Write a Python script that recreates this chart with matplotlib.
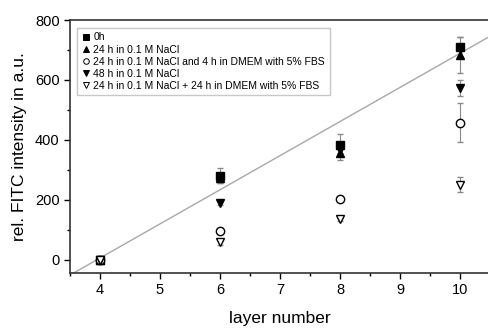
import numpy as np
import matplotlib
matplotlib.use('Agg')
import matplotlib.pyplot as plt
from matplotlib.ticker import MultipleLocator
from matplotlib.lines import Line2D

plt.rcParams['font.family'] = ['Liberation Sans', 'DejaVu Sans']

layers = [4, 6, 8, 10]

# rel. FITC intensity (a.u.) and error bars per condition
y_0h = [0, 280, 383, 710]
e_0h = [5, 25, 35, 33]
y_24h = [0, 272, 357, 683]
e_24h = [5, 15, 25, 60]
y_24h_4h = [0, 95, 203, 457]
e_24h_4h = [5, 10, 8, 65]
y_48h = [0, 190, 365, 573]
e_48h = [5, 8, 10, 27]
y_24h_24h = [0, 57, 135, 250]
e_24h_24h = [5, 8, 8, 25]

labels = ['0h', '24 h in 0.1 M NaCl', '24 h in 0.1 M NaCl and 4 h in DMEM with 5% FBS',
          '48 h in 0.1 M NaCl', '24 h in 0.1 M NaCl + 24 h in DMEM with 5% FBS']

# linear fit line
slope = 114
intercept = -451

fig = plt.figure(figsize=(4.88, 3.28), dpi=100)
ax = fig.add_axes([0.1434, 0.1677, 0.861, 0.7713])

fit_x = np.array([3.4, 10.6])
ax.plot(fit_x, slope * fit_x + intercept, color='#a8a8a8', lw=1.0, zorder=1)

series = [
    (y_0h, e_0h, 's', 'black'),
    (y_24h, e_24h, '^', 'black'),
    (y_24h_4h, e_24h_4h, 'o', 'white'),
    (y_48h, e_48h, 'v', 'black'),
    (y_24h_24h, e_24h_24h, 'v', 'white'),
]
handles = []
for (y, e, m, fc), lab in zip(series, labels):
    ax.errorbar(layers, y, yerr=e, fmt=m, ms=6, mfc=fc, mec='black', mew=1.0,
                ecolor='#8a8a8a', elinewidth=0.8, capsize=2.5, capthick=0.8,
                zorder=3)
    handles.append(Line2D([], [], ls='none', marker=m, ms=4, mfc=fc,
                          mec='black', mew=0.7, label=lab))

ax.set_xlim(3.5, 10.5)
ax.set_ylim(-45, 800)
ax.xaxis.set_major_locator(MultipleLocator(1))
ax.xaxis.set_minor_locator(MultipleLocator(0.5))
ax.yaxis.set_major_locator(MultipleLocator(200))
ax.yaxis.set_minor_locator(MultipleLocator(100))
ax.tick_params(which='major', direction='out', length=4, width=1, labelsize=10.5)
ax.tick_params(which='minor', direction='out', length=2, width=1)
ax.tick_params(right=False, which='both')
for s in ax.spines.values():
    s.set_linewidth(1.2)
    s.set_color('#333333')
ax.spines['right'].set_visible(False)

ax.set_xlabel('layer number', fontsize=12.5, labelpad=10)
ax.set_ylabel('rel. FITC intensity in a.u.', fontsize=12.5, labelpad=6)

ax.legend(handles=handles, loc='upper left', fontsize=7.5, frameon=True,
          fancybox=False, edgecolor='#bbbbbb', handletextpad=0.3,
          handlelength=0.8, borderpad=0.45, labelspacing=0.2,
          bbox_to_anchor=(0.005, 0.99))

fig.savefig('out.png', dpi=100)
